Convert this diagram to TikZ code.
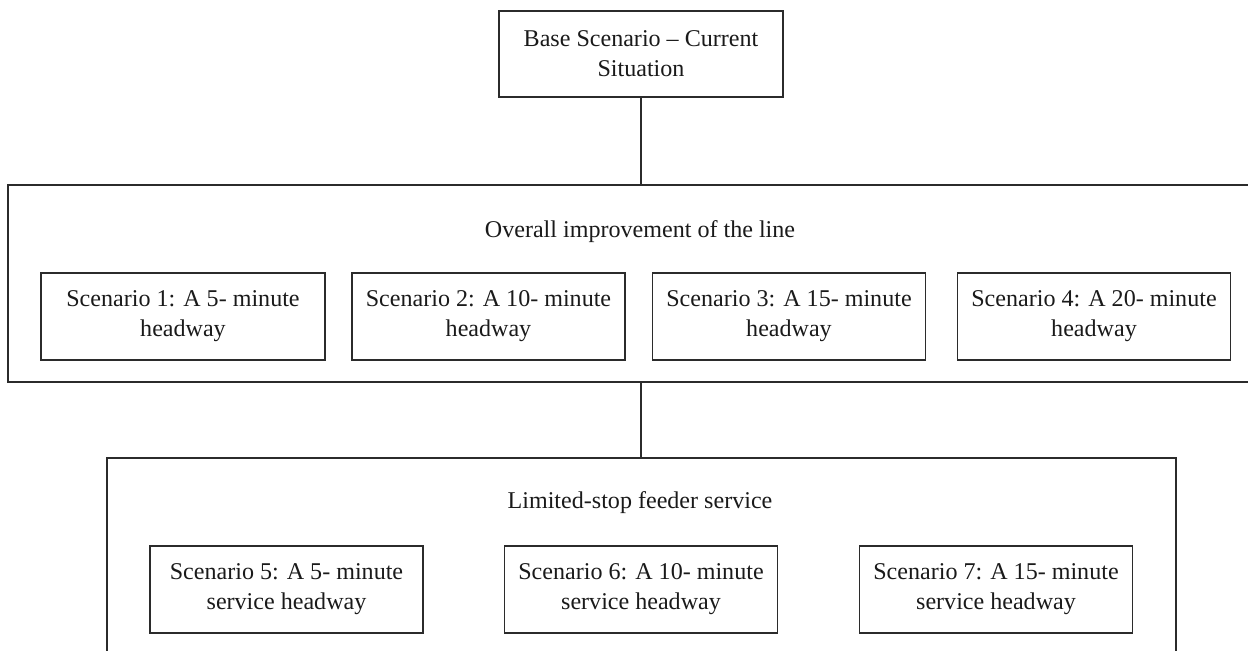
\documentclass[tikz,border=0pt]{standalone}
\usepackage{fontspec}
\setmainfont{Liberation Serif}
\usepackage{xcolor}
\usepackage{tikz}
\definecolor{ink}{HTML}{2B2B2B}
\definecolor{txt}{HTML}{1A1A1A}
\tikzset{
  box/.style={draw=ink, line width=1pt, align=center, text=txt,
    minimum width=5.46cm, minimum height=1.74cm, inner sep=2pt},
  frame/.style={draw=ink, line width=1pt},
  heading/.style={text=txt, inner sep=1pt},
  link/.style={draw=ink, line width=1pt}
}

\begin{document}
\begin{tikzpicture}[x=0.02cm, y=-0.02cm, font=\fontsize{13.7}{17}\selectfont]
  \useasboundingbox (0,0) rectangle (1248,650);

  % start situation
  \node[box, minimum width=5.68cm, minimum height=1.72cm] (base) at (641,54)
    {Base Scenario -- Current\\Situation};

  % overall improvement group
  \node[frame, minimum width=24.82cm, minimum height=3.94cm] (overall) at (628.5,283.5) {};
  \node[heading] (overalltitle) at (640,232) {Overall improvement of the line};

  \node[box, minimum width=5.68cm] (sc1) at (183,316.5) {Scenario 1: A 5- minute\\headway};
  \node[box] (sc2) at (488.5,316.5) {Scenario 2: A 10- minute\\headway};
  \node[box] (sc3) at (789,316.5)  {Scenario 3: A 15- minute\\headway};
  \node[box] (sc4) at (1094,316.5) {Scenario 4: A 20- minute\\headway};

  % feeder service group (runs past the lower edge)
  \node[frame, minimum width=21.38cm, minimum height=5.3cm] (feeder) at (641.5,590.5) {};
  \node[heading] (feedertitle) at (640,503) {Limited-stop feeder service};

  \node[box] (sc5) at (286.5,589.5) {Scenario 5: A 5- minute\\service headway};
  \node[box] (sc6) at (641,589.5)   {Scenario 6: A 10- minute\\service headway};
  \node[box] (sc7) at (996,589.5)   {Scenario 7: A 15- minute\\service headway};

  \draw[link] (base.south) -- (base.south |- overall.north);
  \draw[link] (base.south |- overall.south) -- (base.south |- feeder.north);
\end{tikzpicture}
\end{document}
